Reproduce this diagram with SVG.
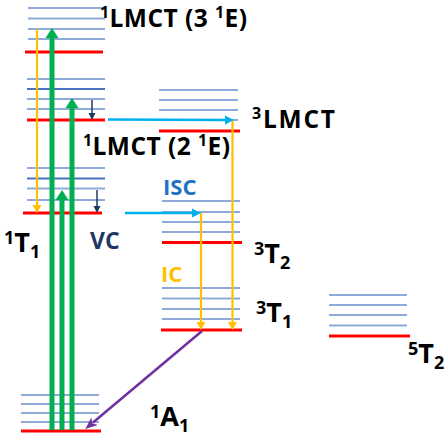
<svg xmlns="http://www.w3.org/2000/svg" width="447" height="438" viewBox="0 0 447 438">
<style>
.v{stroke:#8eaadb;stroke-width:2;fill:none}
.vd{stroke:#4a72c0;stroke-width:2;fill:none}
.e{stroke:#ff0000;stroke-width:3;fill:none}
.g{stroke:#00b050;stroke-width:5;fill:none}
.y{stroke:#ffc000;stroke-width:2.2;fill:none}
.c{stroke:#00b0f0;stroke-width:2.5;fill:none}
.n{stroke:#1f3864;stroke-width:1.5;fill:none}
.p{stroke:#7030a0;stroke-width:2.5;fill:none}
text{font-family:"Open Sans","Liberation Sans",sans-serif;font-weight:bold;fill:#000}
.L{font-size:24.5px}
.Ls{font-size:16px}
.T{font-size:27px}
.Ts{font-size:18px}
</style>
<defs>
<marker id="mg" markerUnits="userSpaceOnUse" markerWidth="12" markerHeight="14" refX="0" refY="6.5" orient="auto" overflow="visible"><path d="M0,0 L10,6.5 L0,13 z" fill="#00b050"/></marker>
<marker id="my" markerUnits="userSpaceOnUse" markerWidth="9" markerHeight="9" refX="0" refY="4.5" orient="auto" overflow="visible"><path d="M0,0 L8,4.5 L0,9 z" fill="#ffc000"/></marker>
<marker id="mc" markerUnits="userSpaceOnUse" markerWidth="10" markerHeight="9" refX="0" refY="4.5" orient="auto" overflow="visible"><path d="M0,0 L9,4.5 L0,9 z" fill="#00b0f0"/></marker>
<marker id="mn" markerUnits="userSpaceOnUse" markerWidth="8" markerHeight="8" refX="0" refY="3.5" orient="auto" overflow="visible"><path d="M0,0 L7,3.5 L0,7 z" fill="#1f3864"/></marker>
<marker id="mp" markerUnits="userSpaceOnUse" markerWidth="13" markerHeight="11" refX="2" refY="5" orient="auto" overflow="visible"><path d="M0,0 L12,5 L0,10 L3,5 z" fill="#7030a0"/></marker>
</defs>

<g id="lmct3">
<line class="v" x1="28" y1="8" x2="105" y2="8"/>
<line class="v" x1="28" y1="18.5" x2="105" y2="18.5"/>
<line class="v" x1="28" y1="29" x2="105" y2="29"/>
<line class="v" x1="28" y1="39" x2="105" y2="39"/>
<line class="e" x1="25" y1="52" x2="103" y2="52"/>
<text class="L" x="100" y="27" textLength="147"><tspan class="Ls" dy="-9">1</tspan><tspan dy="9">LMCT (3 </tspan><tspan class="Ls" dy="-9">1</tspan><tspan dy="9">E)</tspan></text>
</g>

<g id="lmct2">
<line class="v" x1="27" y1="79" x2="105" y2="79"/>
<line class="vd" x1="27" y1="89" x2="105" y2="89"/>
<line class="v" x1="27" y1="99" x2="105" y2="99"/>
<line class="v" x1="27" y1="109" x2="105" y2="109"/>
<line class="e" x1="27" y1="120" x2="105" y2="120"/>
<text class="L" x="83" y="155" textLength="147"><tspan class="Ls" dy="-9">1</tspan><tspan dy="9">LMCT (2 </tspan><tspan class="Ls" dy="-9">1</tspan><tspan dy="9">E)</tspan></text>
</g>

<g id="t1s">
<line class="v" x1="27" y1="168" x2="105" y2="168"/>
<line class="vd" x1="27" y1="178.5" x2="105" y2="178.5"/>
<line class="v" x1="27" y1="188.5" x2="105" y2="188.5"/>
<line class="v" x1="27" y1="200" x2="105" y2="200"/>
<line class="e" x1="23" y1="213" x2="102" y2="213"/>
<text class="T" x="4" y="252"><tspan class="Ts" dy="-8">1</tspan><tspan dy="8">T</tspan><tspan class="Ts" dy="6">1</tspan></text>
</g>

<g id="a1">
<line class="v" x1="21" y1="395" x2="99" y2="395"/>
<line class="v" x1="21" y1="404" x2="99" y2="404"/>
<line class="v" x1="21" y1="413" x2="99" y2="413"/>
<line class="v" x1="21" y1="422" x2="99" y2="422"/>
<line class="e" x1="21" y1="431" x2="101" y2="431"/>
<text class="T" x="150" y="426"><tspan class="Ts" dy="-8">1</tspan><tspan dy="8">A</tspan><tspan class="Ts" dy="6">1</tspan></text>
</g>

<g id="lmct3t">
<line class="v" x1="159" y1="90" x2="238" y2="90"/>
<line class="v" x1="159" y1="100" x2="238" y2="100"/>
<line class="v" x1="159" y1="110" x2="238" y2="110"/>
<line class="v" x1="159" y1="120" x2="238" y2="120"/>
<line class="e" x1="159" y1="131" x2="240" y2="131"/>
<text class="L" x="252" y="128" textLength="83"><tspan class="Ls" dy="-9">3</tspan><tspan dy="9">LMCT</tspan></text>
</g>

<g id="t2t">
<line class="v" x1="162" y1="201" x2="240" y2="201"/>
<line class="v" x1="162" y1="212" x2="240" y2="212"/>
<line class="v" x1="162" y1="222" x2="240" y2="222"/>
<line class="v" x1="162" y1="232" x2="240" y2="232"/>
<line class="e" x1="162" y1="242.5" x2="242" y2="242.5"/>
<text class="T" x="254" y="263"><tspan class="Ts" dy="-8">3</tspan><tspan dy="8">T</tspan><tspan class="Ts" dy="6">2</tspan></text>
</g>

<g id="t1t">
<line class="v" x1="162" y1="288" x2="240" y2="288"/>
<line class="v" x1="162" y1="298.5" x2="240" y2="298.5"/>
<line class="v" x1="162" y1="309" x2="240" y2="309"/>
<line class="v" x1="162" y1="319" x2="240" y2="319"/>
<line class="e" x1="161" y1="330" x2="242" y2="330"/>
<text class="T" x="256" y="322"><tspan class="Ts" dy="-8">3</tspan><tspan dy="8">T</tspan><tspan class="Ts" dy="6">1</tspan></text>
</g>

<g id="t2q">
<line class="v" x1="329" y1="295" x2="407" y2="295"/>
<line class="v" x1="329" y1="305" x2="407" y2="305"/>
<line class="v" x1="329" y1="315" x2="407" y2="315"/>
<line class="v" x1="329" y1="325.5" x2="407" y2="325.5"/>
<line class="e" x1="329" y1="336" x2="410" y2="336"/>
<text class="T" x="408" y="363"><tspan class="Ts" dy="-8">5</tspan><tspan dy="8">T</tspan><tspan class="Ts" dy="6">2</tspan></text>
</g>

<g id="connectors">
<line class="g" x1="52" y1="430" x2="52" y2="38" marker-end="url(#mg)"/>
<line class="g" x1="62" y1="430" x2="62" y2="200" marker-end="url(#mg)"/>
<line class="g" x1="72" y1="430" x2="72" y2="108" marker-end="url(#mg)"/>
<line class="y" x1="37" y1="29" x2="37" y2="205" marker-end="url(#my)"/>
<line class="y" x1="201" y1="213" x2="201" y2="322" marker-end="url(#my)"/>
<line class="y" x1="232.5" y1="120" x2="232.5" y2="322" marker-end="url(#my)"/>
<line class="n" x1="92" y1="100" x2="92" y2="113" marker-end="url(#mn)"/>
<line class="n" x1="97" y1="190" x2="97" y2="206" marker-end="url(#mn)"/>
<line class="c" x1="108" y1="119.5" x2="225" y2="120" marker-end="url(#mc)"/>
<line class="c" x1="125" y1="213" x2="192" y2="213" marker-end="url(#mc)"/>
<line class="p" x1="202" y1="331" x2="93" y2="422.5" marker-end="url(#mp)"/>
<text x="163" y="195" style="font-size:22px;fill:#2272c3">ISC</text>
<text x="90" y="249" style="font-size:23px;fill:#1f3864">VC</text>
<text x="161" y="282" style="font-size:22px;fill:#ffc000">IC</text>
</g>
</svg>
